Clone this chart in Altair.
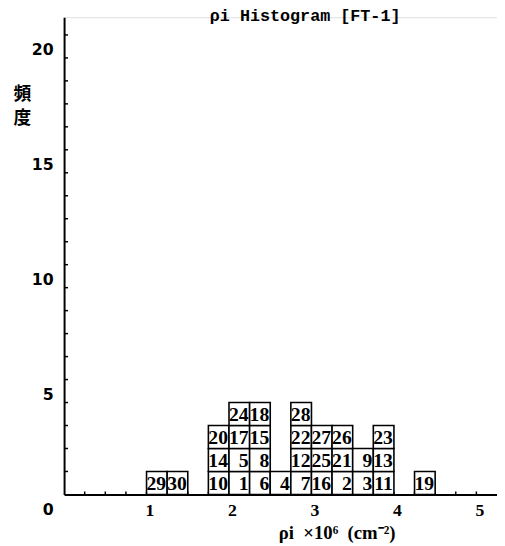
import altair as alt
import pandas as pd

# bins (left edge, width 0.25) and the sample numbers stacked in each, bottom to top
bin_start = [1.0, 1.25, 1.75, 2.0, 2.25, 2.5, 2.75, 3.0, 3.25, 3.5, 3.75, 4.25]
stacks = [[29], [30], [10, 14, 20], [1, 5, 17, 24], [6, 8, 15, 18], [4],
          [7, 12, 22, 28], [16, 25, 27], [2, 21, 26], [3, 9], [11, 13, 23], [19]]
bin_width = 0.25

y_label_values = [0, 5, 10, 15, 20]
x_label_values = [1, 2, 3, 4, 5]
y_minor = list(range(1, 21))
x_minor = [0.25 * i for i in range(1, 21)]

rows = []
for b, ids in zip(bin_start, stacks):
    for k, n in enumerate(ids):
        rows.append({"x0": b, "x1": b + bin_width, "y0": k, "y1": k + 1,
                     "ym": k + 0.5, "id": str(n)})
df = pd.DataFrame(rows)

W, H = 440, 485
xs = alt.Scale(domain=[0, 5.25], nice=False, zero=False)
ys = alt.Scale(domain=[0, 20.77], nice=False, zero=False)

x_axis = alt.Axis(values=x_label_values, format="d", ticks=False, tickSize=0, grid=False,
                  domainColor="black", domainWidth=2, labelFont="Liberation Serif",
                  labelFontWeight="bold", labelFontSize=18, labelColor="black",
                  labelPadding=7, labelOffset=3, labelFlush=False,
                  title="ρi\u00a0 ×10⁶\u00a0 (cm⁻²)", titleFont="Liberation Serif",
                  titleFontWeight="bold", titleFontSize=19, titleColor="black",
                  titleX=277, titleY=39, titleAlign="center", titleBaseline="middle")
y_axis = alt.Axis(values=y_label_values, format="d", ticks=False, tickSize=0, grid=False,
                  domainColor="black", domainWidth=2, labelFont="DejaVu Sans",
                  labelFontWeight="bold", labelFontSize=16, labelColor="black",
                  labelPadding=11, labelOffset=15, labelFlush=False,
                  title=["頻", "度"], titleFont="Noto Sans CJK JP",
                  titleFontWeight="bold", titleFontSize=18, titleColor="black",
                  titleAngle=0, titleX=-43, titleY=70, titleAlign="center",
                  titleBaseline="top", titleLineHeight=24)

ytick = alt.Chart(pd.DataFrame({"v": y_minor})).mark_rule(color="black", strokeWidth=1.5).encode(
    y=alt.Y("v:Q", scale=ys, axis=y_axis),
    x=alt.value(0), x2=alt.value(4))
xtick = alt.Chart(pd.DataFrame({"v": x_minor})).mark_rule(color="black", strokeWidth=1.5).encode(
    x=alt.X("v:Q", scale=xs, axis=x_axis),
    y=alt.value(H), y2=alt.value(H - 3))

rects = alt.Chart(df).mark_rect(fill="white", stroke="black", strokeWidth=1.6).encode(
    x=alt.X("x0:Q", scale=xs), x2="x1:Q",
    y=alt.Y("y0:Q", scale=ys), y2="y1:Q")
labels = alt.Chart(df).mark_text(font="Liberation Serif", fontWeight="bold", fontSize=20,
                                 align="right", baseline="middle", dx=-1, dy=1,
                                 color="black").encode(
    x=alt.X("x1:Q", scale=xs), y=alt.Y("ym:Q", scale=ys), text="id:N")

chart = alt.layer(ytick, xtick, rects, labels).properties(
    width=W, height=H,
    title=alt.TitleParams("ρi Histogram [FT-1]", font="Liberation Mono", fontWeight="bold",
                          fontSize=17, color="black", anchor="middle", frame="group",
                          dx=25, dy=21, offset=0, baseline="alphabetic"),
    autosize=alt.AutoSizeParams(type="none"),
    padding={"left": 57, "top": 5, "right": 0, "bottom": 47},
).configure_view(stroke=None).configure(background="white")

chart.save("out.html", embed_options={"renderer": "svg", "actions": False})
